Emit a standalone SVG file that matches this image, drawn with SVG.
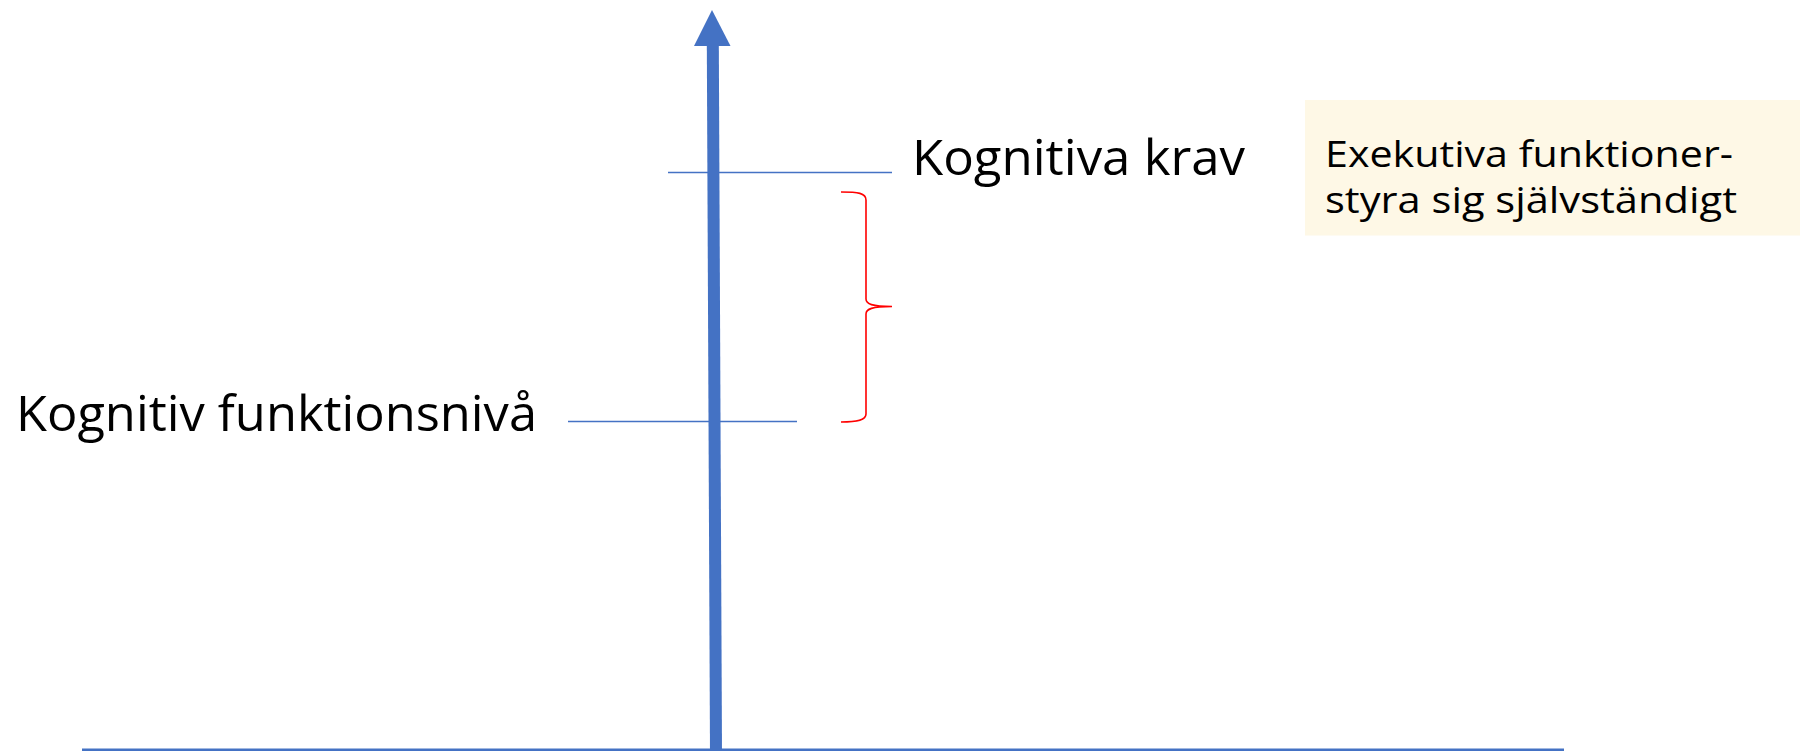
<svg xmlns="http://www.w3.org/2000/svg" width="1800" height="751" viewBox="0 0 1800 751">
<style>
.lbl{font-family:"Open Sans","Liberation Sans",sans-serif;fill:#000000}
.big{font-size:49px}
.small{font-size:36.5px}
.tick{stroke:#4472C4;stroke-width:1.5;fill:none}
.axis{stroke:#4472C4;fill:none}
</style>
<rect width="1800" height="751" fill="#ffffff"/>
<g id="connectors">
<line class="tick" x1="668" y1="172.5" x2="892" y2="172.5"/>
<line class="tick" x1="568" y1="421.5" x2="797" y2="421.5"/>
<line class="axis" x1="82" y1="750" x2="1564" y2="750" stroke-width="3"/>
<line class="axis" x1="716" y1="751" x2="712.8" y2="40" stroke-width="12"/>
<polygon points="712,10 730.5,46 694,46" fill="#4472C4"/>
<path d="M841,192 C858,192 866,193 866,200 L866,299 C866,304 872,306.5 892,306.5 C872,306.5 866,309 866,314 L866,414 C866,420 858,422 841,422" fill="none" stroke="#FF0000" stroke-width="1.6"/>
</g>
<g id="kognitiva-krav">
<text class="lbl big" x="912" y="175" textLength="333" lengthAdjust="spacingAndGlyphs">Kognitiva krav</text>
</g>
<g id="kognitiv-funktionsniva">
<text class="lbl big" x="16" y="431" textLength="521" lengthAdjust="spacingAndGlyphs">Kognitiv funktionsnivå</text>
</g>
<g id="exekutiva">
<rect x="1305" y="100" width="495" height="135.5" fill="#FEF8E6"/>
<text class="lbl small" x="1325" y="167" textLength="408" lengthAdjust="spacingAndGlyphs">Exekutiva funktioner-</text>
<text class="lbl small" x="1325" y="213" textLength="412" lengthAdjust="spacingAndGlyphs">styra sig självständigt</text>
</g>
</svg>
